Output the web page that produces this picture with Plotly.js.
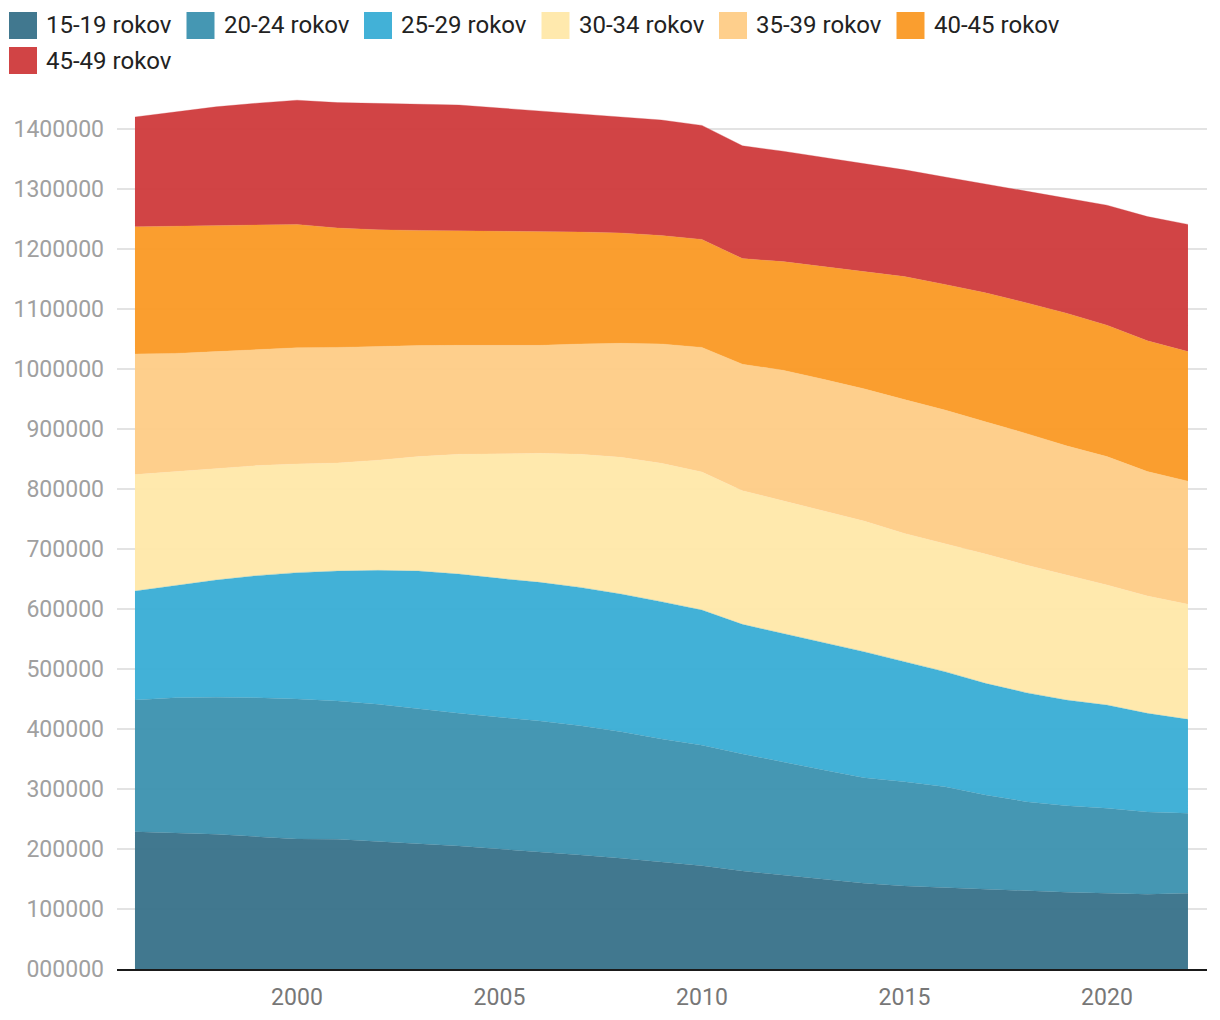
<!DOCTYPE html>
<html>
<head>
<meta charset="utf-8">
<script src="https://cdn.plot.ly/plotly-3.0.1.min.js"></script>
<style>html,body{margin:0;padding:0;background:#fff;}#chart{width:1220px;height:1020px;}</style>
</head>
<body>
<div id="chart"></div>
<script>
var years = [1996,1997,1998,1999,2000,2001,2002,2003,2004,2005,2006,2007,2008,2009,2010,2011,2012,2013,2014,2015,2016,2017,2018,2019,2020,2021,2022];

var seriesNames = ["15-19 rokov","20-24 rokov","25-29 rokov","30-34 rokov","35-39 rokov","40-45 rokov","45-49 rokov"];

var age15_19 = [228900,227200,224400,220600,216700,216100,212200,209400,205000,200000,195600,190000,184400,177800,172000,163300,156100,149400,142800,138300,135600,132800,130000,127800,126100,124400,126100];
var age20_24 = [219400,225000,228400,231600,233300,230600,228900,223900,221100,219500,217700,215600,211200,205700,201000,195000,189500,182300,176100,173900,168300,157200,148900,144400,141700,137300,133300];
var age25_29 = [181700,186700,195500,203400,210600,216600,223300,230000,232200,231600,231100,230400,229400,228700,225300,216100,213800,212700,210000,200000,191700,186100,181700,176100,172200,164400,156700];
var age30_34 = [194000,190100,186100,183400,181100,180000,183600,190700,199500,207900,215000,221800,227800,230600,230000,222800,220600,218900,217800,213800,213800,215600,212700,208400,200000,195600,191700];
var age35_39 = [201000,197000,194600,193500,193800,192700,189800,185000,181600,180000,180000,183900,190000,198900,207700,210800,218000,219500,220300,223000,222200,220300,219400,215300,214000,207300,205200];
var age40_45 = [212000,212000,210000,207500,205500,199000,194200,192000,191100,191500,190600,186600,183900,180800,180000,176000,181000,187700,195000,205000,209400,215000,217800,221000,219000,218000,216000];
var age45_49 = [183000,191000,198000,203000,207000,209000,211000,211000,209500,204500,200000,196700,194300,192500,190000,188000,184000,182500,181000,178000,179000,181000,186500,192000,200000,207000,212000];

var seriesValues = [age15_19, age20_24, age25_29, age30_34, age35_39, age40_45, age45_49];
var colors = ["#39728a","#3d93b0","#3aaed5","#ffe8aa","#fecd87","#fa9a26","#cf3c3d"];
var legendColors = ["#41788f","#4597b3","#42b1d7","#ffe9ad","#fecf8c","#fa9e2f","#d14445"];

function rgba(hex, a) {
  var r = parseInt(hex.substr(1,2),16), g = parseInt(hex.substr(3,2),16), b = parseInt(hex.substr(5,2),16);
  return "rgba(" + r + "," + g + "," + b + "," + a + ")";
}

var traces = seriesNames.map(function(name, i) {
  return {
    type: "scatter",
    mode: "lines",
    name: name,
    x: years,
    y: seriesValues[i],
    stackgroup: "one",
    line: {width: 0.5, color: rgba(legendColors[i], 0.6), shape: "linear"},
    fillcolor: rgba(colors[i], 0.96),
    showlegend: false,
    hoverinfo: "x+y+name"
  };
});

var W = 1220, H = 1020;
var mL = 117, mR = 13, mT = 93, mB = 51;
var pw = W - mL - mR, ph = H - mT - mB;
function px2x(px) { return (px - mL) / pw; }
function py2y(py) { return (H - mB - py) / ph; }

var shapes = [], annotations = [];
var perRow = 6, itemW = 177.5, startX = 9, rowY = [25.5, 60.5], swW = 28, swH = 27;
seriesNames.forEach(function(name, i) {
  var row = Math.floor(i / perRow), col = i % perRow;
  var x0 = startX + col * itemW, yc = rowY[row];
  shapes.push({
    type: "rect", xref: "paper", yref: "paper",
    x0: px2x(x0), x1: px2x(x0 + swW),
    y0: py2y(yc + swH / 2), y1: py2y(yc - swH / 2),
    fillcolor: legendColors[i], line: {width: 0}, layer: "above"
  });
  annotations.push({
    xref: "paper", yref: "paper",
    x: px2x(x0 + swW + 8), y: py2y(yc),
    xanchor: "left", yanchor: "middle",
    text: name, showarrow: false, borderpad: 0,
    font: {family: "Roboto, sans-serif", size: 24, color: "#222"}
  });
});

var layout = {
  width: W, height: H,
  margin: {l: mL, r: mR, t: mT, b: mB, pad: 0},
  paper_bgcolor: "#fff",
  plot_bgcolor: "#fff",
  showlegend: false,
  font: {family: "Roboto, sans-serif", size: 23, color: "#a0a0a0"},
  xaxis: {
    range: [1995.556, 2022.47],
    tickmode: "array",
    tickvals: [2000, 2005, 2010, 2015, 2020],
    ticktext: ["2000", "2005", "2010", "2015", "2020"],
    showgrid: false,
    zeroline: false,
    showline: true,
    linecolor: "#1a1a1a",
    linewidth: 2,
    ticks: "",
    ticklabelstandoff: 6,
    tickfont: {family: "Roboto, sans-serif", size: 23, color: "#777"}
  },
  yaxis: {
    range: [0, 1460000],
    dtick: 100000,
    tick0: 0,
    tickformat: "06d",
    showgrid: true,
    gridcolor: "#e3e3e3",
    gridwidth: 2,
    zeroline: false,
    showline: false,
    ticks: "",
    ticklabelstandoff: 12,
    tickfont: {family: "Roboto, sans-serif", size: 23, color: "#a0a0a0"}
  },
  shapes: shapes,
  annotations: annotations
};

Plotly.newPlot("chart", traces, layout, {displayModeBar: false, staticPlot: true});
</script>
</body>
</html>
